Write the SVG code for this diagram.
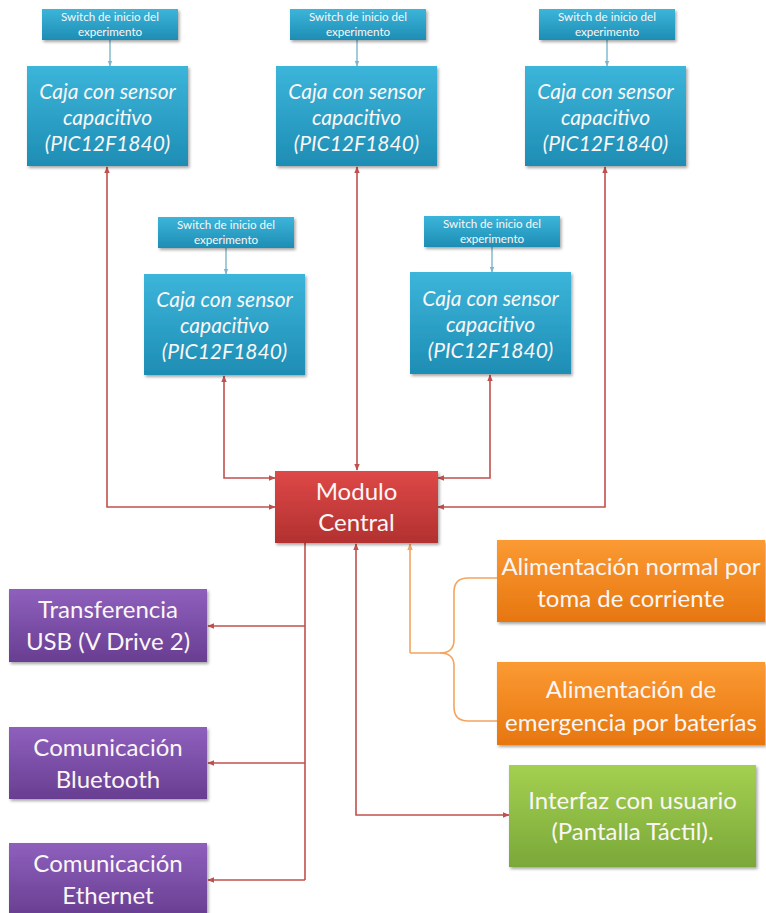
<svg xmlns="http://www.w3.org/2000/svg" width="766" height="913" viewBox="0 0 766 913">
  <defs>
    <linearGradient id="gTeal" x1="0" y1="0" x2="0" y2="1">
      <stop offset="0" stop-color="#3cb5da"/>
      <stop offset="1" stop-color="#1e8db4"/>
    </linearGradient>
    <linearGradient id="gRed" x1="0" y1="0" x2="0" y2="1">
      <stop offset="0" stop-color="#de4847"/>
      <stop offset="1" stop-color="#b23130"/>
    </linearGradient>
    <linearGradient id="gPurple" x1="0" y1="0" x2="0" y2="1">
      <stop offset="0" stop-color="#8e60bd"/>
      <stop offset="1" stop-color="#683e91"/>
    </linearGradient>
    <linearGradient id="gOrange" x1="0" y1="0" x2="0" y2="1">
      <stop offset="0" stop-color="#fb9a33"/>
      <stop offset="1" stop-color="#e7760f"/>
    </linearGradient>
    <linearGradient id="gGreen" x1="0" y1="0" x2="0" y2="1">
      <stop offset="0" stop-color="#a4d050"/>
      <stop offset="1" stop-color="#7aa839"/>
    </linearGradient>
    <filter id="shadow" x="-10%" y="-10%" width="125%" height="130%">
      <feDropShadow dx="1.5" dy="2" stdDeviation="1.5" flood-color="#000" flood-opacity="0.35"/>
    </filter>
    <marker id="arR" viewBox="0 0 10 10" refX="9" refY="5" markerWidth="7" markerHeight="7" orient="auto-start-reverse" markerUnits="userSpaceOnUse">
      <path d="M0,1 L10,5 L0,9 z" fill="#c0504d"/>
    </marker>
    <marker id="arO" viewBox="0 0 10 10" refX="9" refY="5" markerWidth="7" markerHeight="7" orient="auto-start-reverse" markerUnits="userSpaceOnUse">
      <path d="M0,1 L10,5 L0,9 z" fill="#f4a460"/>
    </marker>
    <marker id="arT" viewBox="0 0 10 10" refX="9" refY="5" markerWidth="6" markerHeight="6" orient="auto" markerUnits="userSpaceOnUse">
      <path d="M0,1 L10,5 L0,9 z" fill="#7bb7c9"/>
    </marker>
  </defs>
  <style>
    .box { filter: url(#shadow); }
    .teal { fill: url(#gTeal); }
    .red { fill: url(#gRed); }
    .purple { fill: url(#gPurple); }
    .orange { fill: url(#gOrange); }
    .green { fill: url(#gGreen); }
    text { fill: #fbf6f6; font-family: Lato, "Liberation Sans", sans-serif; text-anchor: middle; }
    .sw { font-size: 11.6px; }
    .caja { font-size: 21px; font-style: italic; }
    .big { font-size: 24px; }
    .mid { font-size: 24px; }
    .cr { fill: none; stroke: #c0504d; stroke-width: 1.6; }
    .co { fill: none; stroke: #f4a460; stroke-width: 1.6; }
    .ct { fill: none; stroke: #7bb7c9; stroke-width: 1.4; }
  </style>

  <!-- connectors -->
  <g id="connectors">
    <!-- start switches to boxes -->
    <line class="ct" x1="110" y1="40" x2="110" y2="66" marker-end="url(#arT)"/>
    <line class="ct" x1="357" y1="40" x2="357" y2="66" marker-end="url(#arT)"/>
    <line class="ct" x1="607" y1="40" x2="607" y2="66" marker-end="url(#arT)"/>
    <line class="ct" x1="226" y1="248" x2="226" y2="274" marker-end="url(#arT)"/>
    <line class="ct" x1="492" y1="247" x2="492" y2="272" marker-end="url(#arT)"/>

    <!-- sensor boxes to central module -->
    <polyline class="cr" points="107,167 107,507 275,507" marker-start="url(#arR)" marker-end="url(#arR)"/>
    <polyline class="cr" points="224,376 224,478 275,478" marker-start="url(#arR)" marker-end="url(#arR)"/>
    <line class="cr" x1="357" y1="167" x2="357" y2="470" marker-start="url(#arR)" marker-end="url(#arR)"/>
    <polyline class="cr" points="490,375 490,478 438,478" marker-start="url(#arR)" marker-end="url(#arR)"/>
    <polyline class="cr" points="605,167 605,507 438,507" marker-start="url(#arR)" marker-end="url(#arR)"/>

    <!-- central module to communication outputs -->
    <line class="cr" x1="305" y1="543" x2="305" y2="880"/>
    <line class="cr" x1="305" y1="626" x2="208" y2="626" marker-end="url(#arR)"/>
    <line class="cr" x1="305" y1="763" x2="208" y2="763" marker-end="url(#arR)"/>
    <line class="cr" x1="305" y1="880" x2="208" y2="880" marker-end="url(#arR)"/>

    <!-- user interface -->
    <polyline class="cr" points="356,544 356,815 509,815" marker-start="url(#arR)" marker-end="url(#arR)"/>

    <!-- power supply brace -->
    <polyline class="co" points="410,653 410,544" marker-end="url(#arO)"/>
    <path class="co" d="M497,578 L468,578 Q454,578 454,592 L454,640 Q454,653 440,653 L410,653"/>
    <path class="co" d="M497,721 L468,721 Q454,721 454,707 L454,666 Q454,653 440,653"/>
  </g>

  <!-- start switches -->
  <g id="sw1"><rect class="box teal" x="42" y="9" width="136" height="31"/>
    <text class="sw" x="110" y="21">Switch de inicio del</text><text class="sw" x="110" y="36">experimento</text></g>
  <g id="sw2"><rect class="box teal" x="290" y="9" width="136" height="31"/>
    <text class="sw" x="358" y="21">Switch de inicio del</text><text class="sw" x="358" y="36">experimento</text></g>
  <g id="sw3"><rect class="box teal" x="539" y="9" width="136" height="31"/>
    <text class="sw" x="607" y="21">Switch de inicio del</text><text class="sw" x="607" y="36">experimento</text></g>
  <g id="sw4"><rect class="box teal" x="158" y="217" width="136" height="31"/>
    <text class="sw" x="226" y="229">Switch de inicio del</text><text class="sw" x="226" y="244">experimento</text></g>
  <g id="sw5"><rect class="box teal" x="424" y="216" width="136" height="31"/>
    <text class="sw" x="492" y="228">Switch de inicio del</text><text class="sw" x="492" y="243">experimento</text></g>

  <!-- capacitive sensor boxes -->
  <g id="caja1"><rect class="box teal" x="27" y="66" width="161" height="100"/>
    <text class="caja" x="107.5" y="99">Caja con sensor</text>
    <text class="caja" x="107.5" y="125">capacitivo</text>
    <text class="caja" x="107.5" y="151">(PIC12F1840)</text></g>
  <g id="caja2"><rect class="box teal" x="276" y="66" width="161" height="100"/>
    <text class="caja" x="356.5" y="99">Caja con sensor</text>
    <text class="caja" x="356.5" y="125">capacitivo</text>
    <text class="caja" x="356.5" y="151">(PIC12F1840)</text></g>
  <g id="caja3"><rect class="box teal" x="525" y="66" width="161" height="100"/>
    <text class="caja" x="605.5" y="99">Caja con sensor</text>
    <text class="caja" x="605.5" y="125">capacitivo</text>
    <text class="caja" x="605.5" y="151">(PIC12F1840)</text></g>
  <g id="caja4"><rect class="box teal" x="144" y="274" width="161" height="101"/>
    <text class="caja" x="224.5" y="307">Caja con sensor</text>
    <text class="caja" x="224.5" y="333">capacitivo</text>
    <text class="caja" x="224.5" y="359">(PIC12F1840)</text></g>
  <g id="caja5"><rect class="box teal" x="410" y="272" width="161" height="102"/>
    <text class="caja" x="490.5" y="306">Caja con sensor</text>
    <text class="caja" x="490.5" y="332">capacitivo</text>
    <text class="caja" x="490.5" y="358">(PIC12F1840)</text></g>

  <!-- central module -->
  <g id="modulo"><rect class="box red" x="275" y="471" width="163" height="72"/>
    <text class="big" x="356.5" y="500">Modulo</text>
    <text class="big" x="356.5" y="531">Central</text></g>

  <!-- power supply -->
  <g id="alim1"><rect class="box orange" x="497" y="540" width="268" height="82"/>
    <text class="big" x="631" y="575">Alimentación normal por</text>
    <text class="big" x="631" y="607">toma de corriente</text></g>
  <g id="alim2"><rect class="box orange" x="497" y="662" width="268" height="83"/>
    <text class="big" x="631" y="698">Alimentación de</text>
    <text class="big" x="631" y="731">emergencia por baterías</text></g>

  <!-- communication outputs -->
  <g id="usb"><rect class="box purple" x="9" y="589" width="198" height="73"/>
    <text class="big" x="108" y="618">Transferencia</text>
    <text class="big" x="108" y="650">USB (V Drive 2)</text></g>
  <g id="bluetooth"><rect class="box purple" x="9" y="727" width="198" height="72"/>
    <text class="big" x="108" y="756">Comunicación</text>
    <text class="big" x="108" y="788">Bluetooth</text></g>
  <g id="ethernet"><rect class="box purple" x="9" y="843" width="198" height="74"/>
    <text class="big" x="108" y="872">Comunicación</text>
    <text class="big" x="108" y="904">Ethernet</text></g>

  <!-- user interface -->
  <g id="interfaz"><rect class="box green" x="509" y="765" width="247" height="102"/>
    <text class="mid" x="632.5" y="809">Interfaz con usuario</text>
    <text class="mid" x="632.5" y="840">(Pantalla Táctil).</text></g>
</svg>
